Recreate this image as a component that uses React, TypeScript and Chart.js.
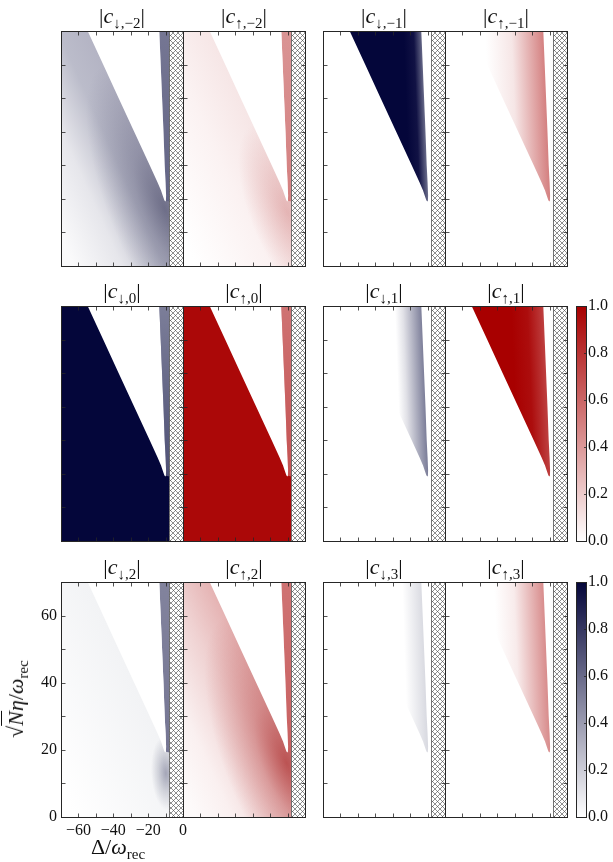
import React, { useEffect, useRef } from 'react';
import { Chart, registerables } from 'chart.js';

Chart.register(...registerables);

type Pt = [number, number];

/* ---------------- data ---------------- */
const DELTA_MIN = -70;
const DELTA_MAX = 0;
const ETA_MIN = 0;
const ETA_MAX = 70;
const DELTA_LABEL_TICKS = [-60, -40, -20, 0];
const ETA_LABEL_TICKS = [0, 20, 40, 60];
const DELTA_MINOR_TICKS = [-60, -50, -40, -30, -20, -10];
const ETA_MINOR_TICKS = [10, 20, 30, 40, 50, 60];
const COLORBAR_TICKS = [0, 0.2, 0.4, 0.6, 0.8, 1.0];
const HATCH_START = -7.8;

// boundary of the wedge (Δ/ω_rec, √N η/ω_rec)
const DIAG_EDGE: Pt[] = [
  [-54.7, 70], [-45.8, 60], [-36.9, 50], [-28.0, 40], [-19.1, 30], [-14.7, 25],
  [-12.6, 22.5], [-11.4, 20.6], [-10.7, 19.6], [-10.2, 19.2],
];
const RIGHT_EDGE: Pt[] = [
  [-9.8, 19.4], [-9.7, 21], [-10.0, 25], [-10.5, 30], [-11.2, 40], [-12.0, 50],
  [-12.8, 60], [-13.6, 70],
];

const OUTSIDE: Pt[] = [[DELTA_MIN, 0], [HATCH_START, 0], [HATCH_START, 70], [DELTA_MIN, 70]];
const WEDGE: Pt[] = [...DIAG_EDGE, ...RIGHT_EDGE];
const BAND: Pt[] = [...RIGHT_EDGE, [HATCH_START, 70], [HATCH_START, 19.2]];
const HATCH: Pt[] = [[HATCH_START, 0], [DELTA_MAX, 0], [DELTA_MAX, 70], [HATCH_START, 70]];
const COLORBAR_RECT: Pt[] = [[0, 0], [1, 0], [1, 1], [0, 1]];

const PANEL_SUBSCRIPTS = ['↓,−2', '↑,−2', '↓,−1', '↑,−1', '↓,0', '↑,0', '↓,1', '↑,1', '↓,2', '↑,2', '↓,3', '↑,3'];

type Layer = {
  region: Pt[];
  kind: 'flat' | 'lin' | 'ell';
  v?: number;
  from?: Pt;
  to?: Pt;
  ratio?: number;
  stops?: [number, number][];
  blend?: 'multiply';
};

// gradient directions: across the diagonal edge, and an ellipse around the cusp
const PERP_FROM: Pt = [-24, 35];
const PERP_TO: Pt = [-81.3, 21.5];

const LAYERS_DN_M2: Layer[] = [
  { region: OUTSIDE, kind: 'lin', from: PERP_FROM, to: PERP_TO, stops: [[0, 0.3], [0.25, 0.27], [0.6, 0.1], [1, 0.02]] },
  { region: OUTSIDE, kind: 'ell', from: [-10.5, 17], to: [-45, 60], ratio: 0.35, stops: [[0, 0.4], [0.4, 0.2], [1, 0]], blend: 'multiply' },
  { region: BAND, kind: 'lin', from: [-10, 70], to: [-10, 19], stops: [[0, 0.55], [1, 0.62]] },
  { region: WEDGE, kind: 'flat', v: 0 },
];
const LAYERS_UP_M2: Layer[] = [
  { region: OUTSIDE, kind: 'lin', from: PERP_FROM, to: PERP_TO, stops: [[0, 0.1], [0.4, 0.05], [1, 0]] },
  { region: OUTSIDE, kind: 'ell', from: [-10, 16], to: [-30, 42], ratio: 0.4, stops: [[0, 0.22], [1, 0]], blend: 'multiply' },
  { region: BAND, kind: 'lin', from: [-10, 70], to: [-10, 19], stops: [[0, 0.42], [1, 0.5]] },
  { region: WEDGE, kind: 'flat', v: 0 },
];
const LAYERS_DN_M1: Layer[] = [
  { region: WEDGE, kind: 'lin', from: [-22, 45], to: [-11.6, 45.2], stops: [[0, 1], [0.55, 0.95], [1, 0.6]] },
];
const LAYERS_UP_M1: Layer[] = [
  { region: WEDGE, kind: 'lin', from: [-45, 45], to: [-11.6, 45.7], stops: [[0, 0], [0.45, 0.1], [1, 0.5]] },
];
const LAYERS_DN_0: Layer[] = [
  { region: OUTSIDE, kind: 'flat', v: 1 },
  { region: BAND, kind: 'lin', from: [-10, 70], to: [-10, 19], stops: [[0, 0.52], [1, 0.7]] },
  { region: WEDGE, kind: 'flat', v: 0 },
];
const LAYERS_UP_0: Layer[] = [
  { region: OUTSIDE, kind: 'flat', v: 0.97 },
  { region: BAND, kind: 'lin', from: [-10, 70], to: [-10, 19], stops: [[0, 0.55], [1, 0.68]] },
  { region: WEDGE, kind: 'flat', v: 0 },
];
const LAYERS_DN_1: Layer[] = [
  { region: WEDGE, kind: 'lin', from: [-27, 45], to: [-11.6, 45.3], stops: [[0, 0], [0.3, 0.12], [1, 0.52]] },
];
const LAYERS_UP_1: Layer[] = [
  { region: WEDGE, kind: 'lin', from: [-30, 45], to: [-11.6, 45.4], stops: [[0, 1], [0.5, 0.95], [1, 0.75]] },
];
const LAYERS_DN_2: Layer[] = [
  { region: OUTSIDE, kind: 'lin', from: PERP_FROM, to: PERP_TO, stops: [[0, 0.05], [1, 0]] },
  { region: OUTSIDE, kind: 'ell', from: [-9.8, 13], to: [-11, 24], ratio: 0.4, stops: [[0, 0.33], [0.5, 0.15], [1, 0]], blend: 'multiply' },
  { region: BAND, kind: 'lin', from: [-10, 70], to: [-10, 19], stops: [[0, 0.5], [1, 0.55]] },
  { region: WEDGE, kind: 'flat', v: 0 },
];
const LAYERS_UP_2: Layer[] = [
  { region: OUTSIDE, kind: 'lin', from: PERP_FROM, to: PERP_TO, stops: [[0, 0.3], [0.3, 0.18], [0.7, 0.06], [1, 0.02]] },
  { region: OUTSIDE, kind: 'ell', from: [-10.5, 16], to: [-45, 60], ratio: 0.38, stops: [[0, 0.55], [0.4, 0.25], [1, 0]], blend: 'multiply' },
  { region: BAND, kind: 'lin', from: [-10, 70], to: [-10, 19], stops: [[0, 0.55], [1, 0.62]] },
  { region: WEDGE, kind: 'flat', v: 0 },
];
const LAYERS_DN_3: Layer[] = [
  { region: WEDGE, kind: 'lin', from: [-23, 45], to: [-11.6, 45.2], stops: [[0, 0], [1, 0.15]] },
];
const LAYERS_UP_3: Layer[] = [
  { region: WEDGE, kind: 'lin', from: [-40, 45], to: [-11.6, 45.6], stops: [[0, 0], [0.4, 0.08], [1, 0.45]] },
];

const PANEL_LAYERS: Layer[][] = [
  LAYERS_DN_M2, LAYERS_UP_M2, LAYERS_DN_M1, LAYERS_UP_M1,
  LAYERS_DN_0, LAYERS_UP_0, LAYERS_DN_1, LAYERS_UP_1,
  LAYERS_DN_2, LAYERS_UP_2, LAYERS_DN_3, LAYERS_UP_3,
];

/* ---------------- styles & layout ---------------- */
const NAVY = [4, 6, 58];
const DARK_RED = [168, 0, 0];
const SERIF = "'Liberation Serif', 'DejaVu Serif', serif";
const COL_X = [61, 183, 323, 445];
const ROW_Y = [31, 306, 582];
const PW = 122;
const PH = 235;
const PAD = 3;
const LPAD = 14;
const TICK_LEN = 4;
const CBAR_X = 576;
const CBAR_W = 10;
const Y_AXIS_W = 50;
const X_AXIS_H = 35;

function cmapColor(top: number[], v: number, a = 1) {
  const c = top.map((t) => Math.round(255 + (t - 255) * v));
  return `rgba(${c[0]},${c[1]},${c[2]},${a})`;
}

function fillLayer(ctx: CanvasRenderingContext2D, xs: any, ys: any, l: Layer, top: number[]) {
  if (l.kind === 'flat') {
    ctx.fillStyle = cmapColor(top, l.v ?? 0);
    ctx.fill();
    return;
  }
  const fx = xs.getPixelForValue(l.from![0]);
  const fy = ys.getPixelForValue(l.from![1]);
  const tx = xs.getPixelForValue(l.to![0]);
  const ty = ys.getPixelForValue(l.to![1]);
  if (l.kind === 'lin') {
    const g = ctx.createLinearGradient(fx, fy, tx, ty);
    l.stops!.forEach(([t, v]) => g.addColorStop(t, cmapColor(top, v)));
    ctx.fillStyle = g;
    ctx.fill();
    return;
  }
  // elliptical glow centred at `from`, major axis reaching `to`
  const R = Math.hypot(tx - fx, ty - fy);
  ctx.save();
  ctx.translate(fx, fy);
  ctx.rotate(Math.atan2(ty - fy, tx - fx));
  ctx.scale(1, l.ratio ?? 1);
  const g = ctx.createRadialGradient(0, 0, 0, 0, 0, R);
  l.stops!.forEach(([t, v]) => g.addColorStop(t, cmapColor(top, v)));
  ctx.fillStyle = g;
  ctx.fill();
  ctx.restore();
}

function hatchPattern(ctx: CanvasRenderingContext2D) {
  const s = 5;
  const t = document.createElement('canvas');
  t.width = s;
  t.height = s;
  const g = t.getContext('2d')!;
  g.strokeStyle = '#444';
  g.lineWidth = 0.6;
  g.beginPath();
  g.moveTo(0, 0);
  g.lineTo(s, s);
  g.moveTo(0, s);
  g.lineTo(s, 0);
  g.stroke();
  return ctx.createPattern(t, 'repeat')!;
}

const shadePlugin = {
  id: 'shade',
  beforeDatasetsDraw(chart: any) {
    const ctx: CanvasRenderingContext2D = chart.ctx;
    const a = chart.chartArea;
    const xs = chart.scales.x;
    const ys = chart.scales.y;
    ctx.save();
    ctx.beginPath();
    ctx.rect(a.left, a.top, a.right - a.left, a.bottom - a.top);
    ctx.clip();
    chart.data.datasets.forEach((ds: any, i: number) => {
      const pts = chart.getDatasetMeta(i).data;
      if (!pts.length) return;
      ctx.beginPath();
      pts.forEach((p: any, j: number) => (j ? ctx.lineTo(p.x, p.y) : ctx.moveTo(p.x, p.y)));
      ctx.closePath();
      if (ds.hatch) {
        ctx.globalCompositeOperation = 'source-over';
        ctx.fillStyle = '#ffffff';
        ctx.fill();
        ctx.fillStyle = hatchPattern(ctx);
        ctx.fill();
        const x = Math.round(xs.getPixelForValue(HATCH_START)) + 0.5;
        ctx.strokeStyle = '#555';
        ctx.lineWidth = 0.8;
        ctx.beginPath();
        ctx.moveTo(x, a.top);
        ctx.lineTo(x, a.bottom);
        ctx.stroke();
        return;
      }
      ctx.globalCompositeOperation = ds.layer.blend || 'source-over';
      fillLayer(ctx, xs, ys, ds.layer, ds.cmapTop);
    });
    ctx.restore();
  },
  afterDatasetsDraw(chart: any) {
    const ctx: CanvasRenderingContext2D = chart.ctx;
    const a = chart.chartArea;
    const xs = chart.scales.x;
    const ys = chart.scales.y;
    const opt = chart.options.plugins.frame || {};
    const L = Math.round(a.left) + 0.5;
    const R = Math.round(a.right) + 0.5;
    const T = Math.round(a.top) + 0.5;
    const B = Math.round(a.bottom) + 0.5;
    ctx.save();
    ctx.strokeStyle = '#262626';
    ctx.lineWidth = 1;
    ctx.strokeRect(L, T, R - L, B - T);
    ctx.lineWidth = 0.8;
    ctx.beginPath();
    (opt.xTicks || []).forEach((v: number) => {
      const x = Math.round(xs.getPixelForValue(v)) + 0.5;
      ctx.moveTo(x, T);
      ctx.lineTo(x, T + TICK_LEN);
      ctx.moveTo(x, B);
      ctx.lineTo(x, B - TICK_LEN);
    });
    (opt.yTicks || []).forEach((v: number) => {
      const y = Math.round(ys.getPixelForValue(v)) + 0.5;
      if (!opt.rightOnly) {
        ctx.moveTo(L, y);
        ctx.lineTo(L + TICK_LEN, y);
      }
      ctx.moveTo(R, y);
      ctx.lineTo(R - (opt.rightOnly ? 2.5 : TICK_LEN), y);
    });
    ctx.stroke();
    ctx.restore();
  },
};

const minusFmt = (v: number) => (v < 0 ? '−' + Math.abs(v) : String(v));

function panelConfig(layers: Layer[], top: number[], labeled: boolean): any {
  const datasets: any[] = layers.map((l) => ({
    data: l.region.map(([x, y]) => ({ x, y })),
    layer: l,
    cmapTop: top,
  }));
  datasets.push({ data: HATCH.map(([x, y]) => ({ x, y })), hatch: true });
  const tickFont = { family: SERIF, size: 16 };
  const xScale: any = {
    type: 'linear',
    min: DELTA_MIN,
    max: DELTA_MAX,
    display: labeled,
    grid: { display: false, drawTicks: false },
    border: { display: false },
    ticks: { font: tickFont, color: '#111', padding: 4, callback: minusFmt, maxRotation: 0 },
    afterBuildTicks: (s: any) => {
      s.ticks = DELTA_LABEL_TICKS.map((value) => ({ value }));
    },
  };
  const yScale: any = {
    type: 'linear',
    min: ETA_MIN,
    max: ETA_MAX,
    display: labeled,
    grid: { display: false, drawTicks: false },
    border: { display: false },
    ticks: { font: tickFont, color: '#111', padding: 4, callback: (v: number) => String(v) },
    afterBuildTicks: (s: any) => {
      s.ticks = ETA_LABEL_TICKS.map((value) => ({ value }));
    },
  };
  if (labeled) {
    xScale.afterFit = (s: any) => {
      s.height = X_AXIS_H;
    };
    yScale.afterFit = (s: any) => {
      s.width = Y_AXIS_W;
    };
  }
  return {
    type: 'scatter',
    data: {
      datasets: datasets.map((d) => ({ ...d, pointRadius: 0, pointHoverRadius: 0, showLine: false })),
    },
    options: {
      responsive: false,
      animation: false,
      devicePixelRatio: 1,
      events: [],
      layout: {
        autoPadding: false,
        padding: labeled ? { left: 0, top: LPAD, right: LPAD, bottom: 0 } : { left: PAD, top: PAD, right: PAD, bottom: PAD },
      },
      plugins: {
        legend: { display: false },
        tooltip: { enabled: false },
        frame: { xTicks: DELTA_MINOR_TICKS, yTicks: ETA_MINOR_TICKS },
      },
      scales: { x: xScale, y: yScale },
    },
    plugins: [shadePlugin],
  };
}

function colorbarConfig(top: number[]): any {
  const layer: Layer = { region: COLORBAR_RECT, kind: 'lin', from: [0.5, 0], to: [0.5, 1], stops: [[0, 0], [1, 1]] };
  return {
    type: 'scatter',
    data: {
      datasets: [{ data: COLORBAR_RECT.map(([x, y]) => ({ x, y })), layer, cmapTop: top, pointRadius: 0, showLine: false }],
    },
    options: {
      responsive: false,
      animation: false,
      devicePixelRatio: 1,
      events: [],
      layout: { autoPadding: false, padding: { left: PAD, top: LPAD, right: 0, bottom: LPAD } },
      plugins: {
        legend: { display: false },
        tooltip: { enabled: false },
        frame: { xTicks: [], yTicks: [0.2, 0.4, 0.6, 0.8], rightOnly: true },
      },
      scales: {
        x: { type: 'linear', min: 0, max: 1, display: false },
        y: {
          type: 'linear',
          min: 0,
          max: 1,
          position: 'right',
          grid: { display: false, drawTicks: false },
          border: { display: false },
          ticks: { font: { family: SERIF, size: 16 }, color: '#111', padding: 2, callback: (v: number) => v.toFixed(1) },
          afterBuildTicks: (s: any) => {
            s.ticks = COLORBAR_TICKS.map((value) => ({ value }));
          },
          afterFit: (s: any) => {
            s.width = 34;
          },
        },
      },
    },
    plugins: [shadePlugin],
  };
}

function ChartBox(props: { left: number; top: number; width: number; height: number; make: () => any }) {
  const ref = useRef<HTMLCanvasElement>(null);
  useEffect(() => {
    const c = new Chart(ref.current!, props.make());
    return () => c.destroy();
  }, []);
  return (
    <canvas
      ref={ref}
      width={props.width}
      height={props.height}
      style={{ position: 'absolute', left: props.left, top: props.top, width: props.width, height: props.height }}
    />
  );
}

export default function App() {
  const boxes: React.ReactNode[] = [];
  const titles: React.ReactNode[] = [];
  PANEL_LAYERS.forEach((layers, i) => {
    const row = Math.floor(i / 4);
    const col = i % 4;
    const up = PANEL_SUBSCRIPTS[i].startsWith('↑');
    const top = up ? DARK_RED : NAVY;
    const labeled = row === 2 && col === 0;
    const x0 = COL_X[col];
    const y0 = ROW_Y[row];
    if (labeled) {
      boxes.push(
        <ChartBox key={'p' + i} left={x0 - Y_AXIS_W} top={y0 - LPAD} width={PW + Y_AXIS_W + LPAD} height={PH + LPAD + X_AXIS_H}
          make={() => panelConfig(layers, top, true)} />,
      );
    } else {
      boxes.push(
        <ChartBox key={'p' + i} left={x0 - PAD} top={y0 - PAD} width={PW + 2 * PAD} height={PH + 2 * PAD}
          make={() => panelConfig(layers, top, false)} />,
      );
    }
    titles.push(
      <div key={'t' + i} style={{ position: 'absolute', left: x0 + PW / 2 - 60, width: 120, top: y0 - 26, textAlign: 'center', fontFamily: SERIF, fontSize: 22, lineHeight: '22px', color: '#111', whiteSpace: 'nowrap' }}>
        |<i>c</i><span style={{ fontSize: 15, position: 'relative', top: 5 }}>{PANEL_SUBSCRIPTS[i]}</span>|
      </div>,
    );
  });
  boxes.push(
    <ChartBox key="cb1" left={CBAR_X - PAD} top={ROW_Y[1] - LPAD} width={PAD + CBAR_W + 34} height={PH + 2 * LPAD}
      make={() => colorbarConfig(DARK_RED)} />,
  );
  boxes.push(
    <ChartBox key="cb2" left={CBAR_X - PAD} top={ROW_Y[2] - LPAD} width={PAD + CBAR_W + 34} height={PH + 2 * LPAD}
      make={() => colorbarConfig(NAVY)} />,
  );
  return (
    <div style={{ position: 'absolute', left: 0, top: 0, width: 613, height: 862, background: '#fff', overflow: 'hidden' }}>
      {boxes}
      {titles}
      <div style={{ position: 'absolute', left: 58, width: 120, top: 836, textAlign: 'center', fontFamily: SERIF, fontSize: 22, lineHeight: '22px', color: '#111', whiteSpace: 'nowrap' }}>
        Δ/<i>ω</i><span style={{ fontSize: 15, position: 'relative', top: 5 }}>rec</span>
      </div>
      <div style={{ position: 'absolute', left: 17, top: 699, width: 0, height: 0 }}>
        <div style={{ position: 'absolute', left: 0, top: 0, transform: 'translate(-50%, -50%) rotate(-90deg)', fontFamily: SERIF, fontSize: 22, lineHeight: '22px', color: '#111', whiteSpace: 'nowrap' }}>
          √<span style={{ borderTop: '1px solid #111', fontStyle: 'italic', paddingTop: 1 }}>N</span><i>η</i>/<i>ω</i><span style={{ fontSize: 15, position: 'relative', top: 5 }}>rec</span>
        </div>
      </div>
    </div>
  );
}
